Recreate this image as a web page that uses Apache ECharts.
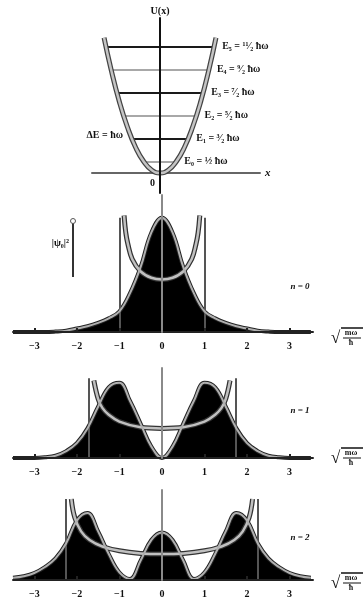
<!DOCTYPE html>
<html>
<head>
<meta charset="utf-8">
<script src="https://cdn.jsdelivr.net/npm/echarts@6/dist/echarts.min.js"></script>
<style>
  html, body { margin: 0; padding: 0; background: #fff; }
  #chart { width: 363px; height: 599px; }
</style>
</head>
<body>
<div id="chart"></div>
<script>
// 势阱 + 能级
var wellX = [-3.43, -3, -2.5, -2, -1.5, -1, -0.5, 0, 0.5, 1, 1.5, 2, 2.5, 3, 3.43];
var wellU = [5.88, 4.5, 3.12, 2.0, 1.12, 0.5, 0.12, 0, 0.12, 0.5, 1.12, 2.0, 3.12, 4.5, 5.88];
var levelE = [0.5, 1.5, 2.5, 3.5, 4.5, 5.5];
var levelHalfWidth = [1.0, 1.73, 2.24, 2.65, 3.0, 3.32];
var levelLabels = ["E₀ = ½ ħω", "E₁ = ³⁄₂ ħω", "E₂ = ⁵⁄₂ ħω", "E₃ = ⁷⁄₂ ħω", "E₄ = ⁹⁄₂ ħω", "E₅ = ¹¹⁄₂ ħω"];

// 概率密度 |ψn|²
var tickVals = [-3, -2, -1, 0, 1, 2, 3];
var psiX = [-3.5, -3.25, -3, -2.75, -2.5, -2.25, -2, -1.75, -1.5, -1.25, -1, -0.75, -0.5, -0.25, 0,
  0.25, 0.5, 0.75, 1, 1.25, 1.5, 1.75, 2, 2.25, 2.5, 2.75, 3, 3.25, 3.5];
var psi0 = [0, 0, 0, 0, 0.004, 0.012, 0.03, 0.05, 0.08, 0.12, 0.18, 0.34, 0.57, 0.87, 1.00,
  0.87, 0.57, 0.34, 0.18, 0.12, 0.08, 0.05, 0.03, 0.012, 0.004, 0, 0, 0, 0];
var psi1 = [0, 0, 0, 0.006, 0.02, 0.06, 0.13, 0.26, 0.45, 0.62, 0.66, 0.50, 0.30, 0.10, 0,
  0.10, 0.30, 0.50, 0.66, 0.62, 0.45, 0.26, 0.13, 0.06, 0.02, 0.006, 0, 0, 0];
var psi2 = [0.02, 0.035, 0.065, 0.12, 0.20, 0.34, 0.55, 0.62, 0.45, 0.24, 0.07, 0.01, 0.18, 0.37, 0.44,
  0.37, 0.18, 0.01, 0.07, 0.24, 0.45, 0.62, 0.55, 0.34, 0.20, 0.12, 0.065, 0.035, 0.02];

// 经典概率分布
var cl0X = [-0.89, -0.85, -0.8, -0.7, -0.5, -0.25, 0, 0.25, 0.5, 0.7, 0.8, 0.85, 0.89];
var cl0Y = [1.02, 0.87, 0.77, 0.64, 0.53, 0.475, 0.46, 0.475, 0.53, 0.64, 0.77, 0.87, 1.02];
var cl1X = [-1.6, -1.5, -1.4, -1.25, -1.0, -0.5, 0, 0.5, 1.0, 1.25, 1.4, 1.5, 1.6];
var cl1Y = [0.68, 0.52, 0.44, 0.38, 0.32, 0.27, 0.26, 0.27, 0.32, 0.38, 0.44, 0.52, 0.68];
var cl2X = [-2.13, -2.05, -1.9, -1.7, -1.4, -1.0, -0.5, 0, 0.5, 1.0, 1.4, 1.7, 1.9, 2.05, 2.13];
var cl2Y = [0.75, 0.58, 0.45, 0.37, 0.31, 0.27, 0.246, 0.24, 0.246, 0.27, 0.31, 0.37, 0.45, 0.58, 0.75];

// 经典转折点
var turnX = [1.0, 1.73, 2.25];
var turnTop = [1.0, 0.70, 0.75];
var nLabels = ["n = 0", "n = 1", "n = 2"];

var FONT = '"Liberation Serif", "DejaVu Serif", serif';

function zip(xs, ys) {
  return xs.map(function (x, i) { return [x, ys[i]]; });
}

var myChart = echarts.init(document.getElementById("chart"), null, { renderer: "canvas" });

var psiList = [psi0, psi1, psi2];
var clList = [[cl0X, cl0Y], [cl1X, cl1Y], [cl2X, cl2Y]];
var panelTop = [195, 368, 490];
var panelHeight = [137, 90, 95];
var panelMax = [1.2, 0.79, 0.833];
var labelY = [287, 411, 538];
var sqrtY = [338, 458, 583];

var grids = [{ left: 92, top: 18, width: 168, height: 175 }];
var xAxes = [{
  gridIndex: 0, type: "value", min: -4.17, max: 6.13,
  axisLine: { onZero: true, lineStyle: { color: "#666", width: 2 } },
  axisTick: { show: false }, axisLabel: { show: false }, splitLine: { show: false },
  name: "x", nameLocation: "end", nameGap: 5,
  nameTextStyle: { fontFamily: FONT, fontStyle: "italic", fontWeight: "bold", fontSize: 11, color: "#111" }
}];
var yAxes = [{
  gridIndex: 0, type: "value", min: -0.87, max: 6.74, z: 10,
  axisLine: { onZero: true, lineStyle: { color: "#111", width: 2 } },
  axisTick: { show: false }, axisLabel: { show: false }, splitLine: { show: false },
  name: "U(x)", nameLocation: "end", nameGap: 2,
  nameTextStyle: { fontFamily: FONT, fontWeight: "bold", fontSize: 10, color: "#111" }
}];

var series = [
  {
    type: "lines", coordinateSystem: "cartesian2d", xAxisIndex: 0, yAxisIndex: 0, z: 3,
    clip: false, polyline: false, symbol: "none",
    lineStyle: { width: 2, opacity: 1, curveness: 0 },
    label: {
      show: true, position: "end", distance: 8, overflow: "none",
      fontFamily: FONT, fontWeight: "bold", fontSize: 10, color: "#111"
    },
    data: levelE.map(function (e, i) {
      return {
        coords: [[-levelHalfWidth[i], e], [levelHalfWidth[i], e]],
        lineStyle: { color: i % 2 ? "#1a1a1a" : "#a8a8a8" },
        label: { formatter: levelLabels[i] }
      };
    })
  },
  {
    type: "line", xAxisIndex: 0, yAxisIndex: 0, z: 4, smooth: true, symbol: "none",
    lineStyle: { color: "#444", width: 5 }, data: zip(wellX, wellU)
  },
  {
    type: "line", xAxisIndex: 0, yAxisIndex: 0, z: 5, smooth: true, symbol: "none",
    lineStyle: { color: "#c4c4c4", width: 2.5 }, data: zip(wellX, wellU)
  }
];

for (var k = 0; k < 3; k++) {
  var gi = k + 1;
  grids.push({ left: 13, width: 300, top: panelTop[k], height: panelHeight[k] });
  xAxes.push({
    gridIndex: gi, type: "value", min: -3.5, max: 3.55, z: 9,
    axisLine: { onZero: true, lineStyle: { color: "#222", width: 2 } },
    axisTick: { show: true, inside: true, length: 4, customValues: tickVals, lineStyle: { color: "#222", width: 2 } },
    axisLabel: {
      show: true, customValues: tickVals, margin: 9,
      fontFamily: FONT, fontWeight: "bold", fontSize: 10, color: "#111",
      formatter: function (v) { return String(v).replace("-", "−"); }
    },
    splitLine: { show: false }
  });
  yAxes.push({
    gridIndex: gi, type: "value", min: 0, max: panelMax[k], z: 10,
    axisLine: { onZero: true, lineStyle: { color: "#8a8a8a", width: 2 } },
    axisTick: { show: false }, axisLabel: { show: false }, splitLine: { show: false }
  });
  // 量子概率密度（黑色填充）
  series.push({
    type: "line", xAxisIndex: gi, yAxisIndex: gi, z: 2, smooth: 0.4, symbol: "none",
    lineStyle: { color: "#222", width: 4 },
    areaStyle: { color: "#000", opacity: 1 },
    data: zip(psiX, psiList[k])
  });
  // 转折点竖线
  series.push({
    type: "lines", coordinateSystem: "cartesian2d", xAxisIndex: gi, yAxisIndex: gi, z: 3,
    lineStyle: { color: "#555", width: 2, opacity: 1 },
    data: [-1, 1].map(function (s) {
      return { coords: [[s * turnX[k], 0], [s * turnX[k], turnTop[k]]] };
    })
  });
  // 经典分布
  series.push({
    type: "line", xAxisIndex: gi, yAxisIndex: gi, z: 4, smooth: 0.4, symbol: "none",
    lineStyle: { color: "#333", width: 5 }, data: zip(clList[k][0], clList[k][1])
  });
  series.push({
    type: "line", xAxisIndex: gi, yAxisIndex: gi, z: 6, smooth: 0.4, symbol: "none",
    lineStyle: { color: "#c0c0c0", width: 2.5 }, data: zip(clList[k][0], clList[k][1])
  });
  series.push({
    type: "line", xAxisIndex: gi, yAxisIndex: gi, z: 7, smooth: 0.4, symbol: "none",
    lineStyle: { color: "#b0b0b0", width: 2 }, data: zip(psiX, psiList[k])
  });
}

function txt(x, y, s, align, size, style) {
  return {
    type: "text", x: x, y: y, z: 20,
    style: {
      text: s, fill: "#111", textAlign: align || "left", textVerticalAlign: "middle",
      font: (style || "") + " bold " + (size || 10) + "px " + FONT
    }
  };
}

function sqrtLabel(yc) {
  return [
    txt(331, yc + 1, "√", "left", 17),
    { type: "line", z: 20, shape: { x1: 341, y1: yc - 10, x2: 363, y2: yc - 10 }, style: { stroke: "#111", lineWidth: 1.5 } },
    txt(351, yc - 5, "mω", "center", 8),
    { type: "line", z: 20, shape: { x1: 343, y1: yc, x2: 361, y2: yc }, style: { stroke: "#111", lineWidth: 1 } },
    txt(351, yc + 5, "ħ", "center", 8)
  ];
}

var graphic = [
  txt(123, 135, "ΔE = ħω", "right", 10),
  txt(150, 183, "0", "left", 10),
  txt(69, 243, "|ψ₀|²", "right", 10),
  { type: "line", z: 20, shape: { x1: 73, y1: 221, x2: 73, y2: 277 }, style: { stroke: "#333", lineWidth: 2 } },
  { type: "circle", z: 21, shape: { cx: 73, cy: 221, r: 2.5 }, style: { fill: "#fff", stroke: "#555", lineWidth: 1 } }
];
for (var j = 0; j < 3; j++) {
  graphic.push(txt(300, labelY[j], nLabels[j], "center", 9, "italic"));
  graphic = graphic.concat(sqrtLabel(sqrtY[j]));
}

var option = {
  animation: false,
  backgroundColor: "#fff",
  grid: grids,
  xAxis: xAxes,
  yAxis: yAxes,
  series: series,
  graphic: graphic
};

myChart.setOption(option);
</script>
</body>
</html>
